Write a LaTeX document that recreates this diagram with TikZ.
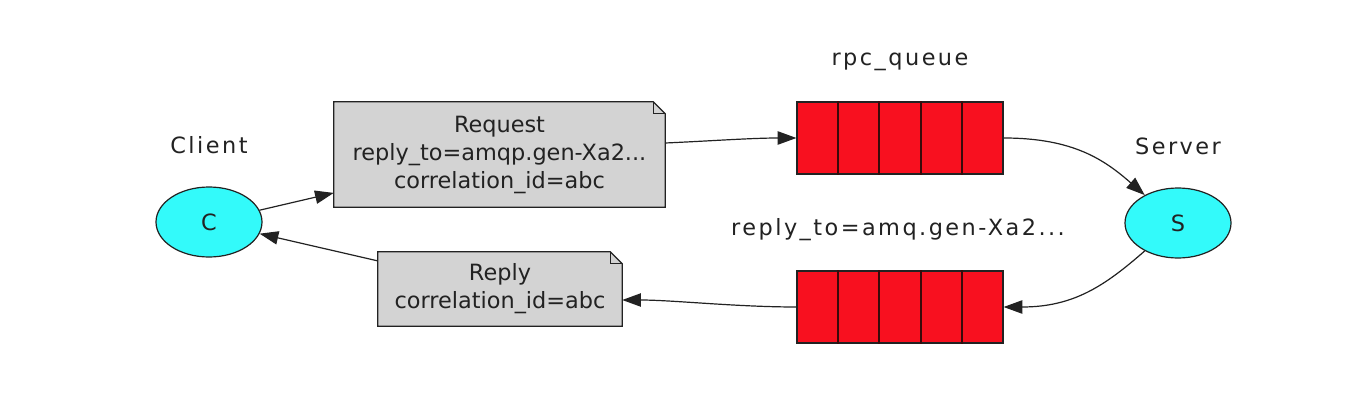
\documentclass[tikz,border=0pt]{standalone}
\usepackage{fontspec}
\setmainfont{DejaVu Sans}
\usetikzlibrary{arrows.meta,shapes.geometric,calc,backgrounds}
\definecolor{qred}{HTML}{F8101F}
\definecolor{ccyan}{HTML}{33FAFA}
\definecolor{notegray}{HTML}{D3D3D3}
\definecolor{ink}{HTML}{222222}
\definecolor{celline}{HTML}{3A0A0A}
\newcommand\drawnotebox[1]{%
  \draw[ink, fill=notegray, line width=0.9pt] (#1.north west) -- ($(#1.north east)+(-12,0)$) -- ($(#1.north east)+(0,12)$) -- (#1.south east) -- (#1.south west) -- cycle;
  \draw[ink, line width=0.5pt] ($(#1.north east)+(-12,0)$) -- ($(#1.north east)+(-12,12)$) -- ($(#1.north east)+(0,12)$);}
\newcommand\drawcells[1]{%
  \foreach \i in {1,2,3,4}{\draw[celline, line width=1.3pt] ($(#1.north west)!\i/5!(#1.north east)$) -- ($(#1.south west)!\i/5!(#1.south east)$);}}
\begin{document}
\begin{tikzpicture}[x=0.75pt,y=-0.75pt,
  font=\fontsize{16.8}{21}\selectfont, text=ink,
  ell/.style={ellipse, draw=ink, fill=ccyan, line width=0.9pt, minimum width=79.5pt, minimum height=52.5pt, inner sep=0pt},
  notebox/.style={rectangle, inner sep=0pt, align=center},
  queue/.style={rectangle, draw=ink, fill=qred, line width=0.9pt, minimum width=154.5pt, minimum height=54pt, inner sep=0pt},
  lbl/.style={inner sep=0pt, font=\fontsize{16.8}{21}\selectfont\addfontfeature{LetterSpace=11}},
  conn/.style={draw=ink, line width=0.9pt, -{Triangle[length=14pt,width=10pt]}},
]
\useasboundingbox (0,0) rectangle (1362,406);

% nodes
\node[ell] (C) at (209,222) {C};
\node[ell] (S) at (1178,223) {S};
\node[notebox, minimum width=248.25pt, minimum height=78.75pt] (req) at (499.5,154.5) {Request\\reply\_to=amqp.gen-Xa2...\\correlation\_id=abc};
\node[notebox, minimum width=183pt, minimum height=55.5pt] (reply) at (500,289) {Reply\\correlation\_id=abc};
\node[queue] (rpc) at (900,138) {};
\node[queue] (rq) at (900,307) {};
\drawcells{rpc}
\drawcells{rq}

% labels
\node[lbl] (clientlbl) at (209,145) {Client};
\node[lbl] (serverlbl) at (1178,146) {Server};
\node[lbl] (rpclbl) at (900,62) {rpc\_queue};
\node[lbl] (rqlbl) at (898,230) {reply\_to=amq.gen-Xa2...};

% note backgrounds
\begin{scope}[on background layer]
  \fill[white] (0,0) rectangle (1362,406);
  \drawnotebox{req}
  \drawnotebox{reply}
\end{scope}

% connectors
\draw[conn] (C) -- (req);
\draw[conn] ($(req.east)+(0,-11.5)$) .. controls +(45,-2) and +(-45,0) .. (rpc.west);
\draw[conn] (rpc.east) .. controls +(70,0) and +(-40,-35) .. (S.140);
\draw[conn] (S.220) .. controls +(-40,35) and +(70,0) .. (rq.east);
\draw[conn] (rq.west) .. controls +(-60,0) and +(50,0) .. ($(reply.east)+(0,11)$);
\draw[conn] (reply) -- (C);
\end{tikzpicture}
\end{document}
